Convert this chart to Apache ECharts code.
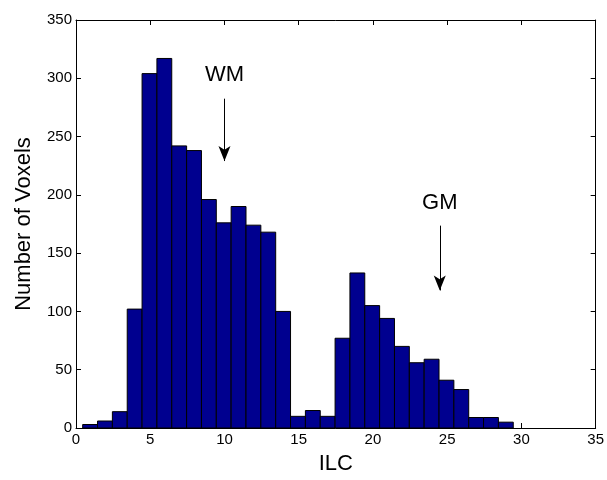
<!DOCTYPE html>
<html>
<head>
<meta charset="utf-8">
<script src="https://cdn.jsdelivr.net/npm/echarts@6/dist/echarts.min.js"></script>
<style>html,body{margin:0;padding:0;background:#fff}#c{width:607px;height:480px}</style>
</head>
<body>
<div id="c"></div>
<script>
// Bin centers (ILC) and counts
const binCenters = [0.95, 1.95, 2.95, 3.95, 4.95, 5.95, 6.95, 7.95, 8.95, 9.95,
  10.95, 11.95, 12.95, 13.95, 14.95, 15.95, 16.95, 17.95, 18.95, 19.95,
  20.95, 21.95, 22.95, 23.95, 24.95, 25.95, 26.95, 27.95, 28.95];
const counts = [3, 6, 14, 102, 304, 317, 242, 238, 196, 176,
  190, 174, 168, 100, 10, 15, 10, 77, 133, 105,
  94, 70, 56, 59, 41, 33, 9, 9, 5];
const binWidth = 1;
const xTicks = [0, 5, 10, 15, 20, 25, 30, 35];
const yTicks = [0, 50, 100, 150, 200, 250, 300, 350];
const annotations = [
  {name: 'WM', text: [10, 303], from: [10, 282.5], to: [10, 229]},
  {name: 'GM', text: [24.5, 193], from: [24.5, 173.6], to: [24.5, 118]}
];

const chart = echarts.init(document.getElementById('c'), null, {renderer: 'canvas'});
const font = 'Liberation Sans, Arial, Helvetica, sans-serif';
const baseAxis = {
  axisLine: {show: true, onZero: false, lineStyle: {color: '#000', width: 1}},
  axisTick: {show: true, inside: true, length: 5, lineStyle: {color: '#000'}},
  splitLine: {show: false}
};
const option = {
  backgroundColor: '#fff',
  animation: false,
  grid: {left: 76, right: 9, top: 20, bottom: 48, containLabel: false},
  xAxis: [
    Object.assign({}, baseAxis, {
      type: 'value', min: xTicks[0], max: xTicks[xTicks.length - 1], interval: 5,
      position: 'bottom',
      name: 'ILC', nameLocation: 'middle', nameGap: 25,
      nameTextStyle: {color: '#000', fontSize: 22, fontFamily: font},
      axisLabel: {color: '#000', fontSize: 15, fontFamily: font, margin: 4}
    }),
    Object.assign({}, baseAxis, {
      type: 'value', min: xTicks[0], max: xTicks[xTicks.length - 1], interval: 5,
      position: 'top', axisLabel: {show: false}
    })
  ],
  yAxis: [
    Object.assign({}, baseAxis, {
      type: 'value', min: yTicks[0], max: yTicks[yTicks.length - 1], interval: 50,
      position: 'left',
      name: 'Number of Voxels', nameLocation: 'middle', nameGap: 41,
      nameTextStyle: {color: '#000', fontSize: 22, fontFamily: font},
      axisLabel: {color: '#000', fontSize: 15, fontFamily: font, margin: 4}
    }),
    Object.assign({}, baseAxis, {
      type: 'value', min: yTicks[0], max: yTicks[yTicks.length - 1], interval: 50,
      position: 'right', axisLabel: {show: false}
    })
  ],
  series: [
    {
      type: 'custom',
      xAxisIndex: 0, yAxisIndex: 0,
      data: binCenters.map((c, i) => [c, counts[i]]),
      renderItem: function (params, api) {
        const x = api.value(0), y = api.value(1);
        const p0 = api.coord([x - binWidth / 2, y]);
        const p1 = api.coord([x + binWidth / 2, 0]);
        return {
          type: 'rect',
          shape: {x: p0[0], y: p0[1], width: p1[0] - p0[0], height: p1[1] - p0[1]},
          style: {fill: '#00008F', stroke: '#000', lineWidth: 1}
        };
      },
      z: 2
    },
    {
      type: 'scatter',
      xAxisIndex: 0, yAxisIndex: 0,
      symbolSize: 0,
      itemStyle: {opacity: 1, color: '#000'},
      data: annotations.map(a => ({name: a.name, value: a.text})),
      label: {show: true, position: 'inside', formatter: '{b}', color: '#000', opacity: 1, fontSize: 22, fontFamily: font, textBorderWidth: 0},
      markLine: {
        silent: true,
        symbol: ['none', 'arrow'],
        symbolSize: [9, 15],
        label: {show: false},
        lineStyle: {color: '#000', width: 1, type: 'solid', opacity: 1},
        data: annotations.map(a => [{coord: a.from}, {coord: a.to}])
      },
      z: 5
    }
  ]
};
chart.setOption(option);
</script>
</body>
</html>
